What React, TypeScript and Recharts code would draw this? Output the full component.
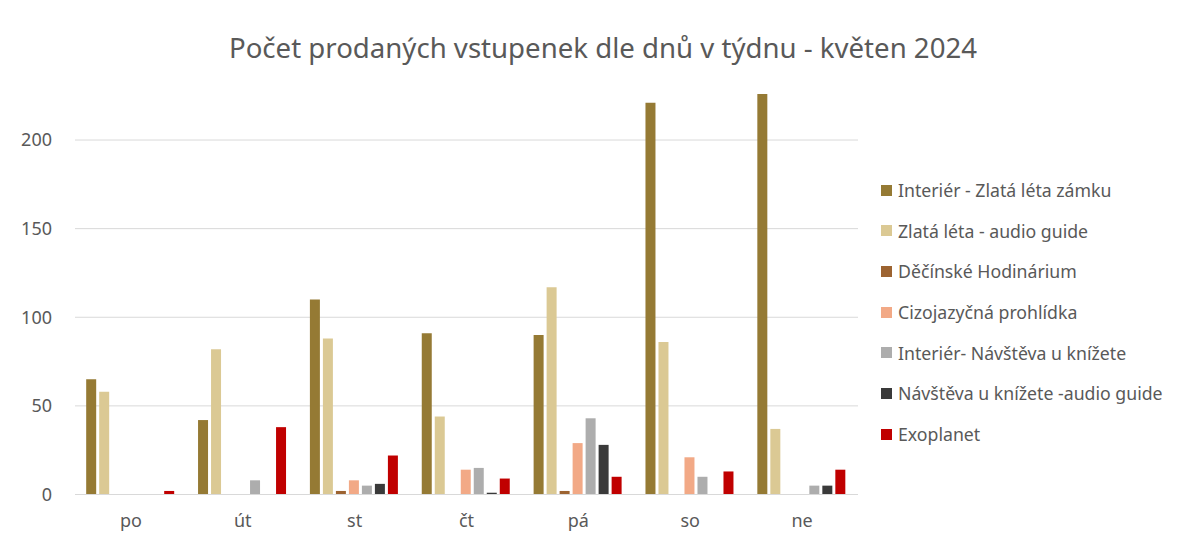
import React from 'react';
import { BarChart, Bar, XAxis, YAxis, CartesianGrid } from 'recharts';

const days = ['po', 'út', 'st', 'čt', 'pá', 'so', 'ne'];

const seriesNames = [
  'Interiér - Zlatá léta zámku',
  'Zlatá léta - audio guide',
  'Děčínské Hodinárium',
  'Cizojazyčná prohlídka',
  'Interiér- Návštěva u knížete',
  'Návštěva u knížete -audio guide',
  'Exoplanet',
];

const interierZlata = [65, 42, 110, 91, 90, 221, 226];
const zlataAudio = [58, 82, 88, 44, 117, 86, 37];
const hodinarium = [0, 0, 2, 0, 2, 0, 0];
const cizojazycna = [0, 0, 8, 14, 29, 21, 0];
const interierKnize = [0, 8, 5, 15, 43, 10, 5];
const knizeAudio = [0, 0, 6, 1, 28, 0, 5];
const exoplanet = [2, 38, 22, 9, 10, 13, 14];

const yTicks = [0, 50, 100, 150, 200];

const COLORS = ['#957a34', '#dbc994', '#9c6331', '#f2a986', '#adadad', '#3a3a3a', '#c00000'];

const allSeries = [interierZlata, zlataAudio, hodinarium, cizojazycna, interierKnize, knizeAudio, exoplanet];

const data = days.map((day, i) => {
  const row: Record<string, string | number> = { day };
  allSeries.forEach((s, k) => {
    row[`s${k}`] = s[i];
  });
  return row;
});

const FONT = '"Noto Sans", sans-serif';
const TEXT = '#595959';

export default function App() {
  return (
    <div
      style={{
        position: 'relative',
        width: 1175,
        height: 533,
        margin: -1,
        border: '1px solid #d0d0d0',
        boxSizing: 'border-box',
        fontFamily: FONT,
        background: '#fff',
      }}
    >
      <div
        style={{
          position: 'absolute',
          left: 0,
          top: 23,
          width: 1190,
          textAlign: 'center',
          fontSize: 27.6,
          lineHeight: '32px',
          color: TEXT,
        }}
      >
        Počet prodaných vstupenek dle dnů v týdnu - květen 2024
      </div>

      <BarChart
        width={1173}
        height={531}
        data={data}
        margin={{ top: 43.4, right: 323, left: 0, bottom: 14.5 }}
        barCategoryGap="10%"
        barGap={3}
      >
        <CartesianGrid vertical={false} stroke="#d9d9d9" syncWithTicks />
        <XAxis
          dataKey="day"
          height={30}
          axisLine={{ stroke: '#d9d9d9' }}
          tickLine={false}
          tickSize={0}
          tickMargin={20}
          tick={{ fill: TEXT, fontSize: 18, fontFamily: FONT }}
        />
        <YAxis
          width={67}
          domain={[0, 250]}
          ticks={yTicks}
          axisLine={false}
          tickLine={false}
          tickSize={0}
          tickMargin={23}
          tick={{ fill: TEXT, fontSize: 18, fontFamily: FONT }}
        />
        {seriesNames.map((name, k) => (
          <Bar key={name} dataKey={`s${k}`} name={name} fill={COLORS[k]} isAnimationActive={false} />
        ))}
      </BarChart>

      <div style={{ position: 'absolute', left: 873, top: 161.7 }}>
        {seriesNames.map((name, k) => (
          <div
            key={name}
            style={{ display: 'flex', alignItems: 'center', height: 40.7, fontSize: 17.7, color: TEXT, whiteSpace: 'nowrap' }}
          >
            <span style={{ display: 'inline-block', width: 11, height: 11, background: COLORS[k], marginRight: 6 }} />
            {name}
          </div>
        ))}
      </div>
    </div>
  );
}
